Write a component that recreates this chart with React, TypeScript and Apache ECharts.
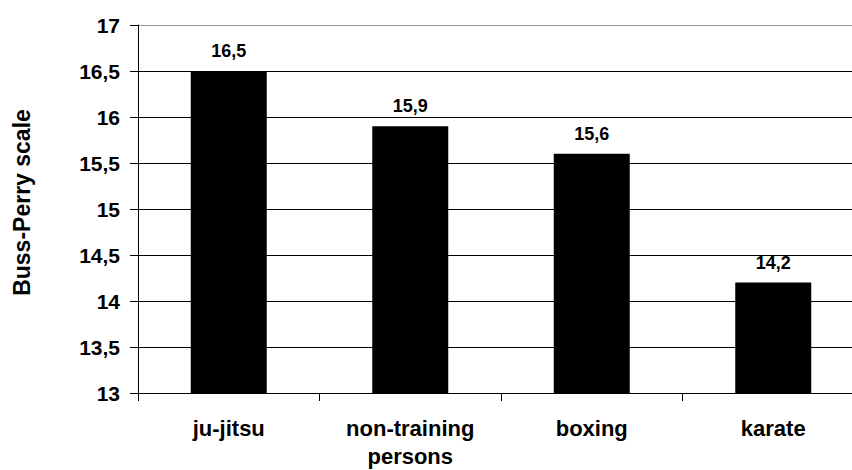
import React, { useEffect, useRef } from "react";
import * as echarts from "echarts";

const categories = ["ju-jitsu", "non-training\npersons", "boxing", "karate"];
const values = [16.5, 15.9, 15.6, 14.2];
const yTicks = [13, 13.5, 14, 14.5, 15, 15.5, 16, 16.5, 17];
const yTitle = "Buss-Perry scale";

const FONT = "'Liberation Sans', Arial, sans-serif";
const fmt = (v: number) => String(v).replace(".", ",");

export default function App() {
  const ref = useRef<HTMLDivElement>(null);
  useEffect(() => {
    if (!ref.current) return;
    const chart = echarts.init(ref.current, undefined, { renderer: "svg" });
    const splitColors = yTicks.map((_, i) => (i === yTicks.length - 1 ? "#999999" : "#000000"));
    chart.setOption({
      animation: false,
      backgroundColor: "#ffffff",
      grid: { left: 138, top: 25, width: 726, bottom: 76, containLabel: false },
      graphic: [
        {
          type: "text",
          x: 21.5,
          y: 202.5,
          rotation: Math.PI / 2,
          style: {
            text: yTitle,
            fill: "#000",
            font: `bold 23px ${FONT}`,
            textAlign: "center",
            textVerticalAlign: "middle",
          },
        },
      ],
      xAxis: {
        type: "category",
        data: categories,
        axisLine: { lineStyle: { color: "#000", width: 1 } },
        axisTick: { show: true, length: 8, lineStyle: { color: "#000" } },
        axisLabel: {
          color: "#000",
          fontFamily: FONT,
          fontWeight: "bold",
          fontSize: 22,
          margin: 21,
          lineHeight: 28,
          interval: 0,
        },
      },
      yAxis: {
        type: "value",
        min: 13,
        max: 17,
        interval: 0.5,
        axisLine: { show: true, lineStyle: { color: "#000", width: 1 } },
        axisTick: { show: true, length: 8, lineStyle: { color: "#000" } },
        axisLabel: {
          color: "#000",
          fontFamily: FONT,
          fontWeight: "bold",
          fontSize: 21,
          margin: 18,
          formatter: (v: number) => fmt(v),
        },
        splitLine: { show: true, lineStyle: { color: splitColors, width: 1 } },
      },
      series: [
        {
          type: "bar",
          data: values,
          barWidth: 76,
          itemStyle: { color: "#000" },
          label: {
            show: true,
            position: "top",
            distance: 11,
            color: "#000",
            fontFamily: FONT,
            fontWeight: "bold",
            fontSize: 18,
            formatter: (p: any) => fmt(p.value),
          },
        },
      ],
    });
    return () => chart.dispose();
  }, []);
  return (
    <div style={{ position: "fixed", left: 0, top: 0, width: 852, height: 470, overflow: "hidden", background: "#fff" }}>
      <div ref={ref} style={{ width: 880, height: 470 }} />
    </div>
  );
}
